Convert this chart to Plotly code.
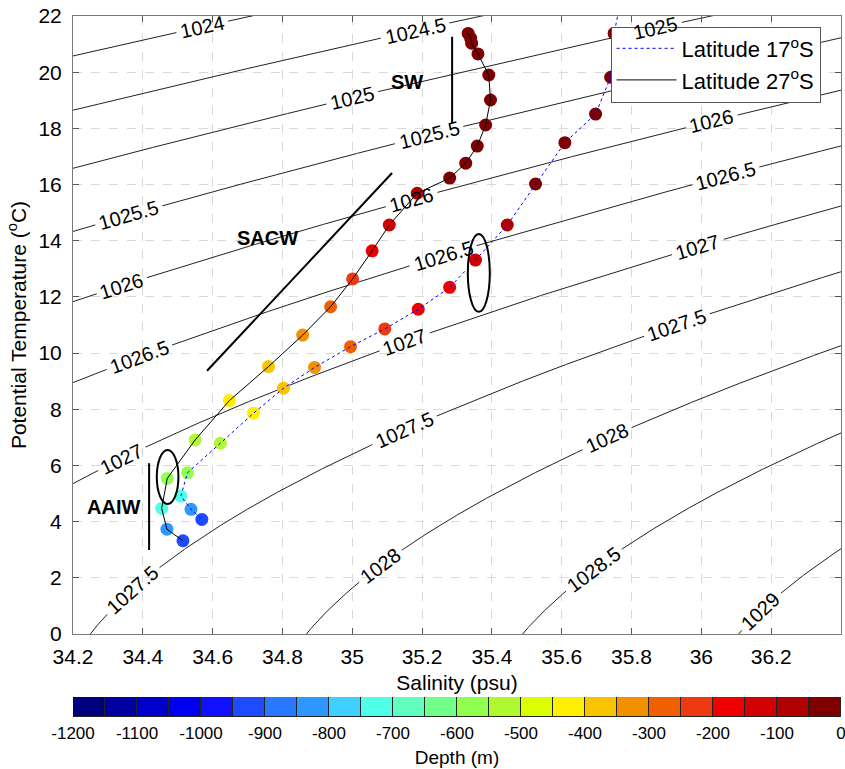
import math
import numpy as np
import plotly.graph_objects as go

# ---------------- profile data (salinity psu, potential temperature degC, depth m) ----------------
s_27 = [35.332, 35.339, 35.342, 35.360, 35.391, 35.396, 35.382, 35.358, 35.325, 35.279,
        35.186, 35.106, 35.057, 35.001, 34.938, 34.858, 34.760, 34.648, 34.550, 34.470,
        34.454, 34.469, 34.515]
t_27 = [21.38, 21.21, 21.03, 20.65, 19.90, 19.01, 18.12, 17.37, 16.76, 16.23,
        15.69, 14.56, 13.64, 12.64, 11.65, 10.64, 9.52, 8.31, 6.91, 5.54,
        4.47, 3.73, 3.32]
d_27 = [0, -5, -10, -15, -20, -25, -30, -35, -40, -45,
        -75, -125, -175, -225, -275, -325, -375, -425, -525, -575,
        -725, -825, -925]

s_17 = [35.770, 35.750, 35.740, 35.697, 35.609, 35.525, 35.444, 35.353, 35.279, 35.189,
        35.093, 34.995, 34.892, 34.803, 34.717, 34.622, 34.528, 34.509, 34.538, 34.569]
t_17 = [22.60, 21.38, 19.82, 18.51, 17.49, 16.02, 14.56, 13.31, 12.34, 11.56,
        10.86, 10.23, 9.49, 8.75, 7.86, 6.79, 5.74, 4.91, 4.44, 4.08]
d_17 = [0, -5, -10, -20, -30, -40, -100, -125, -160, -175,
        -225, -275, -325, -375, -425, -525, -575, -725, -825, -925]

# ---------------- axes ----------------
x_range = [34.2, 36.4]
y_range = [0, 22]
x_ticks = [34.2, 34.4, 34.6, 34.8, 35.0, 35.2, 35.4, 35.6, 35.8, 36.0, 36.2]
x_tick_text = ["34.2", "34.4", "34.6", "34.8", "35", "35.2", "35.4", "35.6", "35.8", "36", "36.2"]
y_ticks = [0, 2, 4, 6, 8, 10, 12, 14, 16, 18, 20, 22]
depth_ticks = [-1200, -1100, -1000, -900, -800, -700, -600, -500, -400, -300, -200, -100, 0]
depth_tick_text = [str(v) for v in depth_ticks]
isopycnals = [1024, 1024.5, 1025, 1025.5, 1026, 1026.5, 1027, 1027.5, 1028, 1028.5, 1029]

# isopycnal label placement: (density, salinity along the line)
label_levels = [1024, 1024.5, 1025, 1025,
                1025.5, 1025.5, 1026, 1026, 1026,
                1026.5, 1026.5, 1026.5, 1027, 1027, 1027,
                1027.5, 1027.5, 1027.5, 1028, 1028, 1028.5, 1029]
label_salts = [34.57, 35.18, 35.87, 35.00,
               34.36, 35.22, 34.34, 35.17, 36.03,
               34.39, 35.26, 36.07, 34.34, 35.15, 35.99,
               34.37, 35.15, 35.93, 35.08, 35.73, 35.69, 36.17]

# 24-step depth palette (deep -> surface)
palette = ["#00007F", "#0000A0", "#0000CC", "#0000F0", "#1010FF", "#1E4BFF",
           "#2A78FF", "#2E98FF", "#40D0FF", "#50FFE8", "#60FFC0", "#70FF88",
           "#90FF50", "#B0F830", "#DCFF00", "#FFF000", "#F8C400", "#F39000",
           "#F06000", "#EE3A10", "#EE0000", "#D20000", "#B00000", "#7F0000"]
dmin, dmax = -1200, 0

FONT = "Liberation Sans, Arial, Helvetica, sans-serif"
LABEL_SIZE = 20

# plot-area geometry (pixels) used to orient and clear the isopycnal labels
W, H = 845, 769
M_L, M_R, M_T, M_B = 73, 4, 16, 52
Y_DOMAIN = [0.1184, 1]
px_per_s = (W - M_L - M_R) / (x_range[1] - x_range[0])
px_per_t = (H - M_T - M_B) * (Y_DOMAIN[1] - Y_DOMAIN[0]) / (y_range[1] - y_range[0])

# stepwise colorscale built from the palette
n = len(palette)
cscale = []
for i, c in enumerate(palette):
    cscale.append([i / n, c])
    cscale.append([(i + 1) / n, c])


def sigma_rho(s, t):
    """Sea-water density at surface pressure (UNESCO EOS-80)."""
    rho_w = (999.842594 + 6.793952e-2 * t - 9.095290e-3 * t**2 + 1.001685e-4 * t**3
             - 1.120083e-6 * t**4 + 6.536332e-9 * t**5)
    a = 0.824493 - 4.0899e-3 * t + 7.6438e-5 * t**2 - 8.2467e-7 * t**3 + 5.3875e-9 * t**4
    b = -5.72466e-3 + 1.0227e-4 * t - 1.6546e-6 * t**2
    return rho_w + a * s + b * s**1.5 + 4.8314e-4 * s**2


def temp_on_isopycnal(level, s):
    """Temperature where the density equals `level` (density falls with temperature)."""
    s = np.asarray(s, dtype=float)
    lo = np.full_like(s, -3.0)
    hi = np.full_like(s, 35.0)
    for _ in range(60):
        mid = 0.5 * (lo + hi)
        denser = sigma_rho(s, mid) > level
        lo = np.where(denser, mid, lo)
        hi = np.where(denser, hi, mid)
    return 0.5 * (lo + hi)


def fmt(lev):
    return ("%.1f" % lev).rstrip("0").rstrip(".")


def text_width(txt):
    return sum(0.278 if ch == "." else 0.556 for ch in txt) * LABEL_SIZE


# label anchors and orientation
labels = []
for lev, s in zip(label_levels, label_salts):
    t = float(temp_on_isopycnal(lev, s))
    eps = 1e-3
    r_s = (sigma_rho(s + eps, t) - sigma_rho(s - eps, t)) / (2 * eps)
    r_t = (sigma_rho(s, t + eps) - sigma_rho(s, t - eps)) / (2 * eps)
    ds, dt = r_t, -r_s
    if ds < 0:
        ds, dt = -ds, -dt
    ang = math.degrees(math.atan2(-dt * px_per_t, ds * px_per_s))
    labels.append((lev, s, t, ang))

fig = go.Figure()

# isopycnals, broken where a label sits
s_line = np.linspace(x_range[0], x_range[1], 1101)
for lev in isopycnals:
    t_line = temp_on_isopycnal(lev, s_line)
    keep = (t_line > -1.0) & (t_line < 23.0)
    for llev, ls, lt, _ in labels:
        if llev != lev:
            continue
        half = text_width(fmt(lev)) / 2 + 4
        dist = np.hypot((s_line - ls) * px_per_s, (t_line - lt) * px_per_t)
        keep &= dist > half
    xs = [float(a) if k else None for a, k in zip(s_line, keep)]
    ys = [float(b) if k else None for b, k in zip(t_line, keep)]
    fig.add_trace(go.Scatter(x=xs, y=ys, mode="lines", connectgaps=False,
                             line=dict(color="#222222", width=1),
                             showlegend=False, hoverinfo="skip"))

for lev, s, t, ang in labels:
    fig.add_annotation(x=s, y=t, text=fmt(lev), showarrow=False, textangle=ang,
                       font=dict(family=FONT, size=LABEL_SIZE, color="black"))

# coloured depth markers
for s, t, d in ((s_27, t_27, d_27), (s_17, t_17, d_17)):
    fig.add_trace(go.Scatter(
        x=s, y=t, mode="markers", showlegend=False,
        marker=dict(size=13, color=d, colorscale=cscale, cmin=dmin, cmax=dmax,
                    line=dict(width=0)),
    ))

# profile lines
fig.add_trace(go.Scatter(x=s_17, y=t_17, mode="lines", name="Latitude 17<sup>o</sup>S",
                         line=dict(color="#0000FF", width=1, dash="dot")))
fig.add_trace(go.Scatter(x=s_27, y=t_27, mode="lines", name="Latitude 27<sup>o</sup>S",
                         line=dict(color="black", width=1)))

# colour bar drawn as a row of cells
centers = [dmin + 25 + 50 * i for i in range(n)]
fig.add_trace(go.Bar(x=centers, y=[1] * n, width=[50] * n, xaxis="x2", yaxis="y2",
                     marker=dict(color=palette, line=dict(color="#222222", width=1)),
                     showlegend=False, hoverinfo="skip"))

# water-mass markings
thick = dict(color="black", width=2)
fig.add_shape(type="line", x0=35.286, x1=35.286, y0=21.26, y1=18.18, line=thick)
fig.add_shape(type="line", x0=34.584, y0=9.37, x1=35.114, y1=16.41, line=thick)
fig.add_shape(type="line", x0=34.418, x1=34.418, y0=6.08, y1=2.99, line=thick)
fig.add_shape(type="circle", x0=34.440, x1=34.502, y0=4.63, y1=6.55, line=thick)
fig.add_shape(type="circle", x0=35.331, x1=35.394, y0=11.47, y1=14.24, line=thick)

for txt, sx, ty in (("SW", 35.158, 19.65), ("SACW", 34.756, 14.09), ("AAIW", 34.315, 4.52)):
    fig.add_annotation(x=sx, y=ty, text="<b>%s</b>" % txt, showarrow=False,
                       font=dict(family=FONT, size=20, color="black"))

axis_common = dict(showline=True, linecolor="#7a7a7a", linewidth=1, mirror="ticks",
                   ticks="inside", ticklen=6, tickcolor="#555555",
                   showgrid=True, gridcolor="#d9d9d9", griddash="dash", gridwidth=1,
                   zeroline=False, automargin=False,
                   tickfont=dict(family=FONT, size=21, color="black"))

fig.update_layout(
    width=W, height=H,
    margin=dict(l=M_L, r=M_R, t=M_T, b=M_B),
    paper_bgcolor="white", plot_bgcolor="white",
    font=dict(family=FONT, size=20, color="black"),
    xaxis=dict(range=x_range, domain=[0, 1], tickvals=x_ticks, ticktext=x_tick_text,
               ticklabelstandoff=4,
               title=dict(text="Salinity (psu)", font=dict(size=21), standoff=8),
               anchor="y", **axis_common),
    yaxis=dict(range=y_range, domain=Y_DOMAIN, tickvals=y_ticks,
               ticklabelstandoff=6,
               title=dict(text="Potential Temperature (<sup>o</sup>C)", font=dict(size=21), standoff=6),
               anchor="x", **axis_common),
    xaxis2=dict(range=[dmin, dmax], domain=[0, 1], anchor="y2", tickvals=depth_ticks,
                ticktext=depth_tick_text, ticklabeloverflow="allow", automargin=False,
                showgrid=False, zeroline=False, showline=False, ticks="",
                ticklabelstandoff=4,
                tickfont=dict(family=FONT, size=17, color="black"),
                title=dict(text="Depth (m)", font=dict(size=19), standoff=8)),
    yaxis2=dict(range=[0, 1], domain=[0, 0.0285], anchor="x2", visible=False),
    showlegend=True,
    legend=dict(x=0.700, y=0.985, xanchor="left", yanchor="top",
                bgcolor="white", bordercolor="#555555", borderwidth=1,
                font=dict(family=FONT, size=22, color="black"),
                itemwidth=60, tracegroupgap=0),
    bargap=0,
)

fig.write_html("out.html")
